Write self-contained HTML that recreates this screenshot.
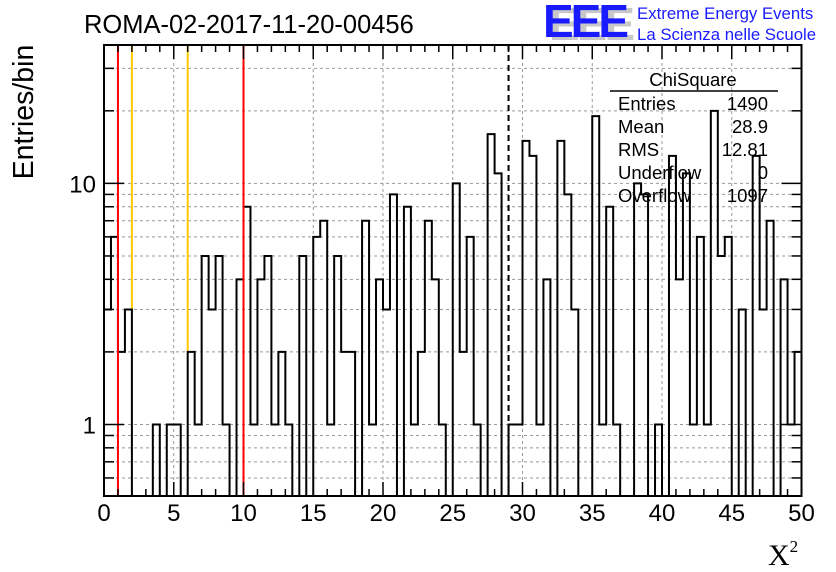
<!DOCTYPE html>
<html><head><meta charset="utf-8">
<style>
html,body{margin:0;padding:0;background:#fff;}
svg{display:block;font-family:"Liberation Sans",Arial,sans-serif;}
</style></head>
<body>
<svg id="chart" width="836" height="572" viewBox="0 0 836 572" xmlns="http://www.w3.org/2000/svg">
  <rect x="0" y="0" width="836" height="572" fill="#fff"/>
  <text x="84" y="33" font-size="25.5" fill="#000">ROMA-02-2017-11-20-00456</text>
  <g>
    <text x="549" y="40" font-size="46" font-weight="bold" fill="#c8c8c8" letter-spacing="-3">EEE</text>
    <text x="543" y="37" font-size="46" font-weight="bold" fill="#1a1aff" letter-spacing="-3">EEE</text>
    <text x="637" y="19" font-size="16.8" fill="#1a1aff">Extreme Energy Events</text>
    <text x="637" y="40" font-size="16.8" fill="#1a1aff">La Scienza nelle Scuole</text>
  </g>
  <g id="grid"></g>
  <g id="plot"></g>
  <g id="axes"></g>
  <text transform="translate(33,112) rotate(-90)" text-anchor="middle" font-size="28.5" fill="#000">Entries/bin</text>
  <text x="768" y="565" font-family="Liberation Serif,serif" font-size="30" fill="#000">X<tspan font-size="17" dy="-13">2</tspan></text>
  <g font-size="18.5" fill="#000">
    <text x="693" y="86" text-anchor="middle">ChiSquare</text>
    <line x1="610" y1="91" x2="778" y2="91" stroke="#000" stroke-width="1.5"/>
    <text x="618" y="110">Entries</text><text x="768" y="110" text-anchor="end">1490</text>
    <text x="618" y="133">Mean</text><text x="768" y="133" text-anchor="end">28.9</text>
    <text x="618" y="156">RMS</text><text x="768" y="156" text-anchor="end">12.81</text>
    <text x="618" y="179">Underflow</text><text x="768" y="179" text-anchor="end">0</text>
    <text x="618" y="202">Overflow</text><text x="768" y="202" text-anchor="end">1097</text>
  </g>
</svg>
<script>
const binCounts = [3,6,2,3,0,0,0,1,0,1, 1,0,2,1,5,3,5,1,0,4, 8,1,4,5,1,2,1,0,5,0, 6,7,1,5,2,2,0,7,1,4, 3,9,0,8,1,2,7,4,1,0, 10,2,6,1,0,16,11,0,1,1, 15,13,1,4,0,15,9,3,0,0, 19,1,8,1,0,0,10,9,0,1, 0,13,4,11,1,6,1,20,5,6, 0,3,0,13,3,7,0,4,1,2];
const xTicks = [0,5,10,15,20,25,30,35,40,45,50];
const yTickLabels = [1,10];
const redLines = [1,10];
const orangeLines = [2,6];
const meanLine = [29];

const NS="http://www.w3.org/2000/svg";
const L=104,R=801.5,T=45,B=496;
const xMin=0,xMax=50,yMin=0.505,yMax=37.5;
const binW=(xMax-xMin)/binCounts.length;
function xs(v){return L+(v-xMin)/(xMax-xMin)*(R-L);}
function ys(v){const lv=Math.log10(Math.max(v,yMin));return B-(lv-Math.log10(yMin))/(Math.log10(yMax)-Math.log10(yMin))*(B-T);}
function mk(tag,attrs,parent){const e=document.createElementNS(NS,tag);for(const k in attrs)e.setAttribute(k,attrs[k]);parent.appendChild(e);return e;}
const grid=document.getElementById('grid'),plot=document.getElementById('plot'),axes=document.getElementById('axes');

const yMinor=[];
for(let d=0.1;d<100;d*=10){for(let m=1;m<10;m++){const v=+(m*d).toFixed(3);if(v>yMin&&v<yMax)yMinor.push(v);}}
for(const t of xTicks){ if(t<=xMin||t>=xMax) continue;
  const g=mk('line',{x1:xs(t),x2:xs(t),y1:T,y2:B,stroke:'#999','stroke-dasharray':'3,3','stroke-width':1},grid);
  
  
}
for(const v of yMinor){
  const g=mk('line',{x1:L,x2:R,y1:ys(v),y2:ys(v),stroke:'#999','stroke-dasharray':'3,3','stroke-width':1},grid);
  
  
}
// orange lines: stop at histogram top
for(const v of orangeLines){
  const i=Math.round((v-xMin)/binW);
  const h=Math.max(binCounts[i-1]||0,binCounts[i]||0);
  const l=mk('line',{x1:xs(v),x2:xs(v),y1:T,y2:h>0?ys(h):B,stroke:'#ffc800','stroke-width':2},plot);
  
  
}
let d='M'+xs(xMin)+' '+B;
binCounts.forEach((c,i)=>{const y=c>0?ys(c):B;d+=' L'+xs(xMin+i*binW)+' '+y+' L'+xs(xMin+(i+1)*binW)+' '+y;});
d+=' L'+xs(xMax)+' '+B;
const hp=mk('path',{d:d,fill:'none',stroke:'#000','stroke-width':2},plot);


for(const v of redLines){
  const l=mk('line',{x1:xs(v),x2:xs(v),y1:T,y2:B,stroke:'#ff0000','stroke-width':2},plot);
  
  
}
for(const v of meanLine){
  const l=mk('line',{x1:xs(v),x2:xs(v),y1:T,y2:B,stroke:'#000','stroke-width':2,'stroke-dasharray':'6,4'},plot);
  
  
}
const fr=mk('rect',{x:L,y:T,width:R-L,height:B-T,fill:'none',stroke:'#000','stroke-width':2},axes);


for(let v=xMin;v<=xMax+1e-9;v+=1){
  const big=(v%5===0);const len=big?14:7;
  mk('line',{x1:xs(v),x2:xs(v),y1:B,y2:B-len,stroke:'#000','stroke-width':1.5},axes);
  mk('line',{x1:xs(v),x2:xs(v),y1:T,y2:T+len,stroke:'#000','stroke-width':1.5},axes);
}
for(const t of xTicks){
  const tx=mk('text',{x:xs(t),y:521,'text-anchor':'middle','font-size':24,fill:'#000'},axes);
  tx.textContent=t;
  
  
}
for(const v of yMinor){
  const major=yTickLabels.includes(v);const len=major?20:10;
  mk('line',{x1:L,x2:L+len,y1:ys(v),y2:ys(v),stroke:'#000','stroke-width':1.5},axes);
  mk('line',{x1:R,x2:R-len,y1:ys(v),y2:ys(v),stroke:'#000','stroke-width':1.5},axes);
}
for(const v of yTickLabels){
  const tx=mk('text',{x:96,y:ys(v)+9,'text-anchor':'end','font-size':24,fill:'#000'},axes);
  tx.textContent=v;
  
  
}
</script>
</body></html>
